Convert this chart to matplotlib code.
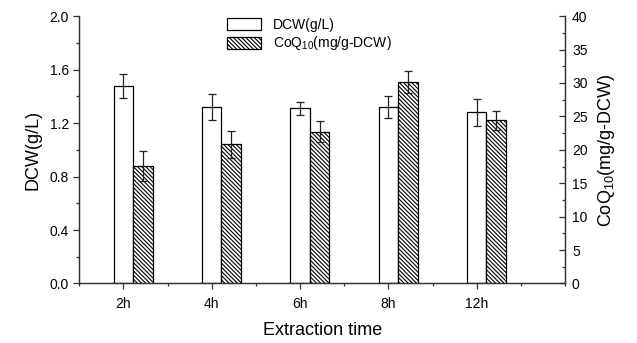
import numpy as np
import matplotlib
matplotlib.use('Agg')
import matplotlib.pyplot as plt
from matplotlib.ticker import MultipleLocator

plt.rcParams['font.family'] = ['Liberation Sans', 'DejaVu Sans']
plt.rcParams['mathtext.fontset'] = 'custom'
plt.rcParams['mathtext.rm'] = 'Liberation Sans'
plt.rcParams['hatch.linewidth'] = 0.8

# ---- Data ----
times = ['2h', '4h', '6h', '8h', '12h']
dcw = [1.48, 1.32, 1.31, 1.32, 1.28]
dcw_err = [0.09, 0.095, 0.05, 0.08, 0.10]
coq = [17.6, 20.8, 22.7, 30.1, 24.4]
coq_err = [2.2, 2.0, 1.6, 1.65, 1.45]

x = np.arange(1, len(times) + 1)
w = 0.22

fig = plt.figure(figsize=(6.37, 3.43), dpi=100)
ax = fig.add_axes([0.1245, 0.1735, 0.7625, 0.7795])
ax2 = ax.twinx()

b1 = ax.bar(x, dcw, w, yerr=dcw_err, color='white', edgecolor='black', linewidth=0.9,
            error_kw=dict(ecolor='#222222', elinewidth=0.9, capsize=3, capthick=0.9),
            label='DCW(g/L)')
b2 = ax2.bar(x + w, coq, w, yerr=coq_err, color='white', edgecolor='black', linewidth=0.9,
             hatch='\\' * 8, error_kw=dict(ecolor='#222222', elinewidth=0.9, capsize=3, capthick=0.9),
             label='CoQ$_{\\mathregular{10}}$(mg/g-DCW)')

ax.set_xlim(0.5, 6.0)
ax.set_ylim(0, 2.0)
ax2.set_ylim(0, 40)
ax.set_xticks(x)
ax.set_xticklabels(times)
ax.xaxis.set_minor_locator(MultipleLocator(0.5))
ax.yaxis.set_major_locator(MultipleLocator(0.4))
ax.yaxis.set_minor_locator(MultipleLocator(0.2))
ax2.yaxis.set_major_locator(MultipleLocator(5))
ax2.yaxis.set_minor_locator(MultipleLocator(2.5))

for a in (ax, ax2):
    a.spines['top'].set_visible(False)
    for s in a.spines.values():
        s.set_linewidth(0.9)
        s.set_color('#333333')

ax.tick_params(axis='both', which='major', direction='out', length=4, width=0.9,
               labelsize=10, color='#333333')
ax.tick_params(axis='both', which='minor', direction='out', length=2.5, width=0.9,
               color='#333333')
ax.tick_params(axis='x', pad=6)
ax2.tick_params(axis='y', which='major', direction='in', length=4, width=0.9,
                labelsize=10, color='#333333', pad=5)
ax2.tick_params(axis='y', which='minor', direction='in', length=2.5, width=0.9,
                color='#333333')

ax.set_ylabel('DCW(g/L)', fontsize=13, labelpad=6)
ax2.set_ylabel('CoQ$_{\\mathregular{10}}$(mg/g-DCW)', fontsize=13, labelpad=6)
ax.set_xlabel('Extraction time', fontsize=13, labelpad=8)

fig.legend(handles=[b1, b2], loc='upper left', bbox_to_anchor=(0.337, 0.985),
           frameon=False, fontsize=10, handlelength=2.4, handleheight=0.95,
           labelspacing=0.2, handletextpad=0.9)

fig.savefig('out.png', dpi=100)
